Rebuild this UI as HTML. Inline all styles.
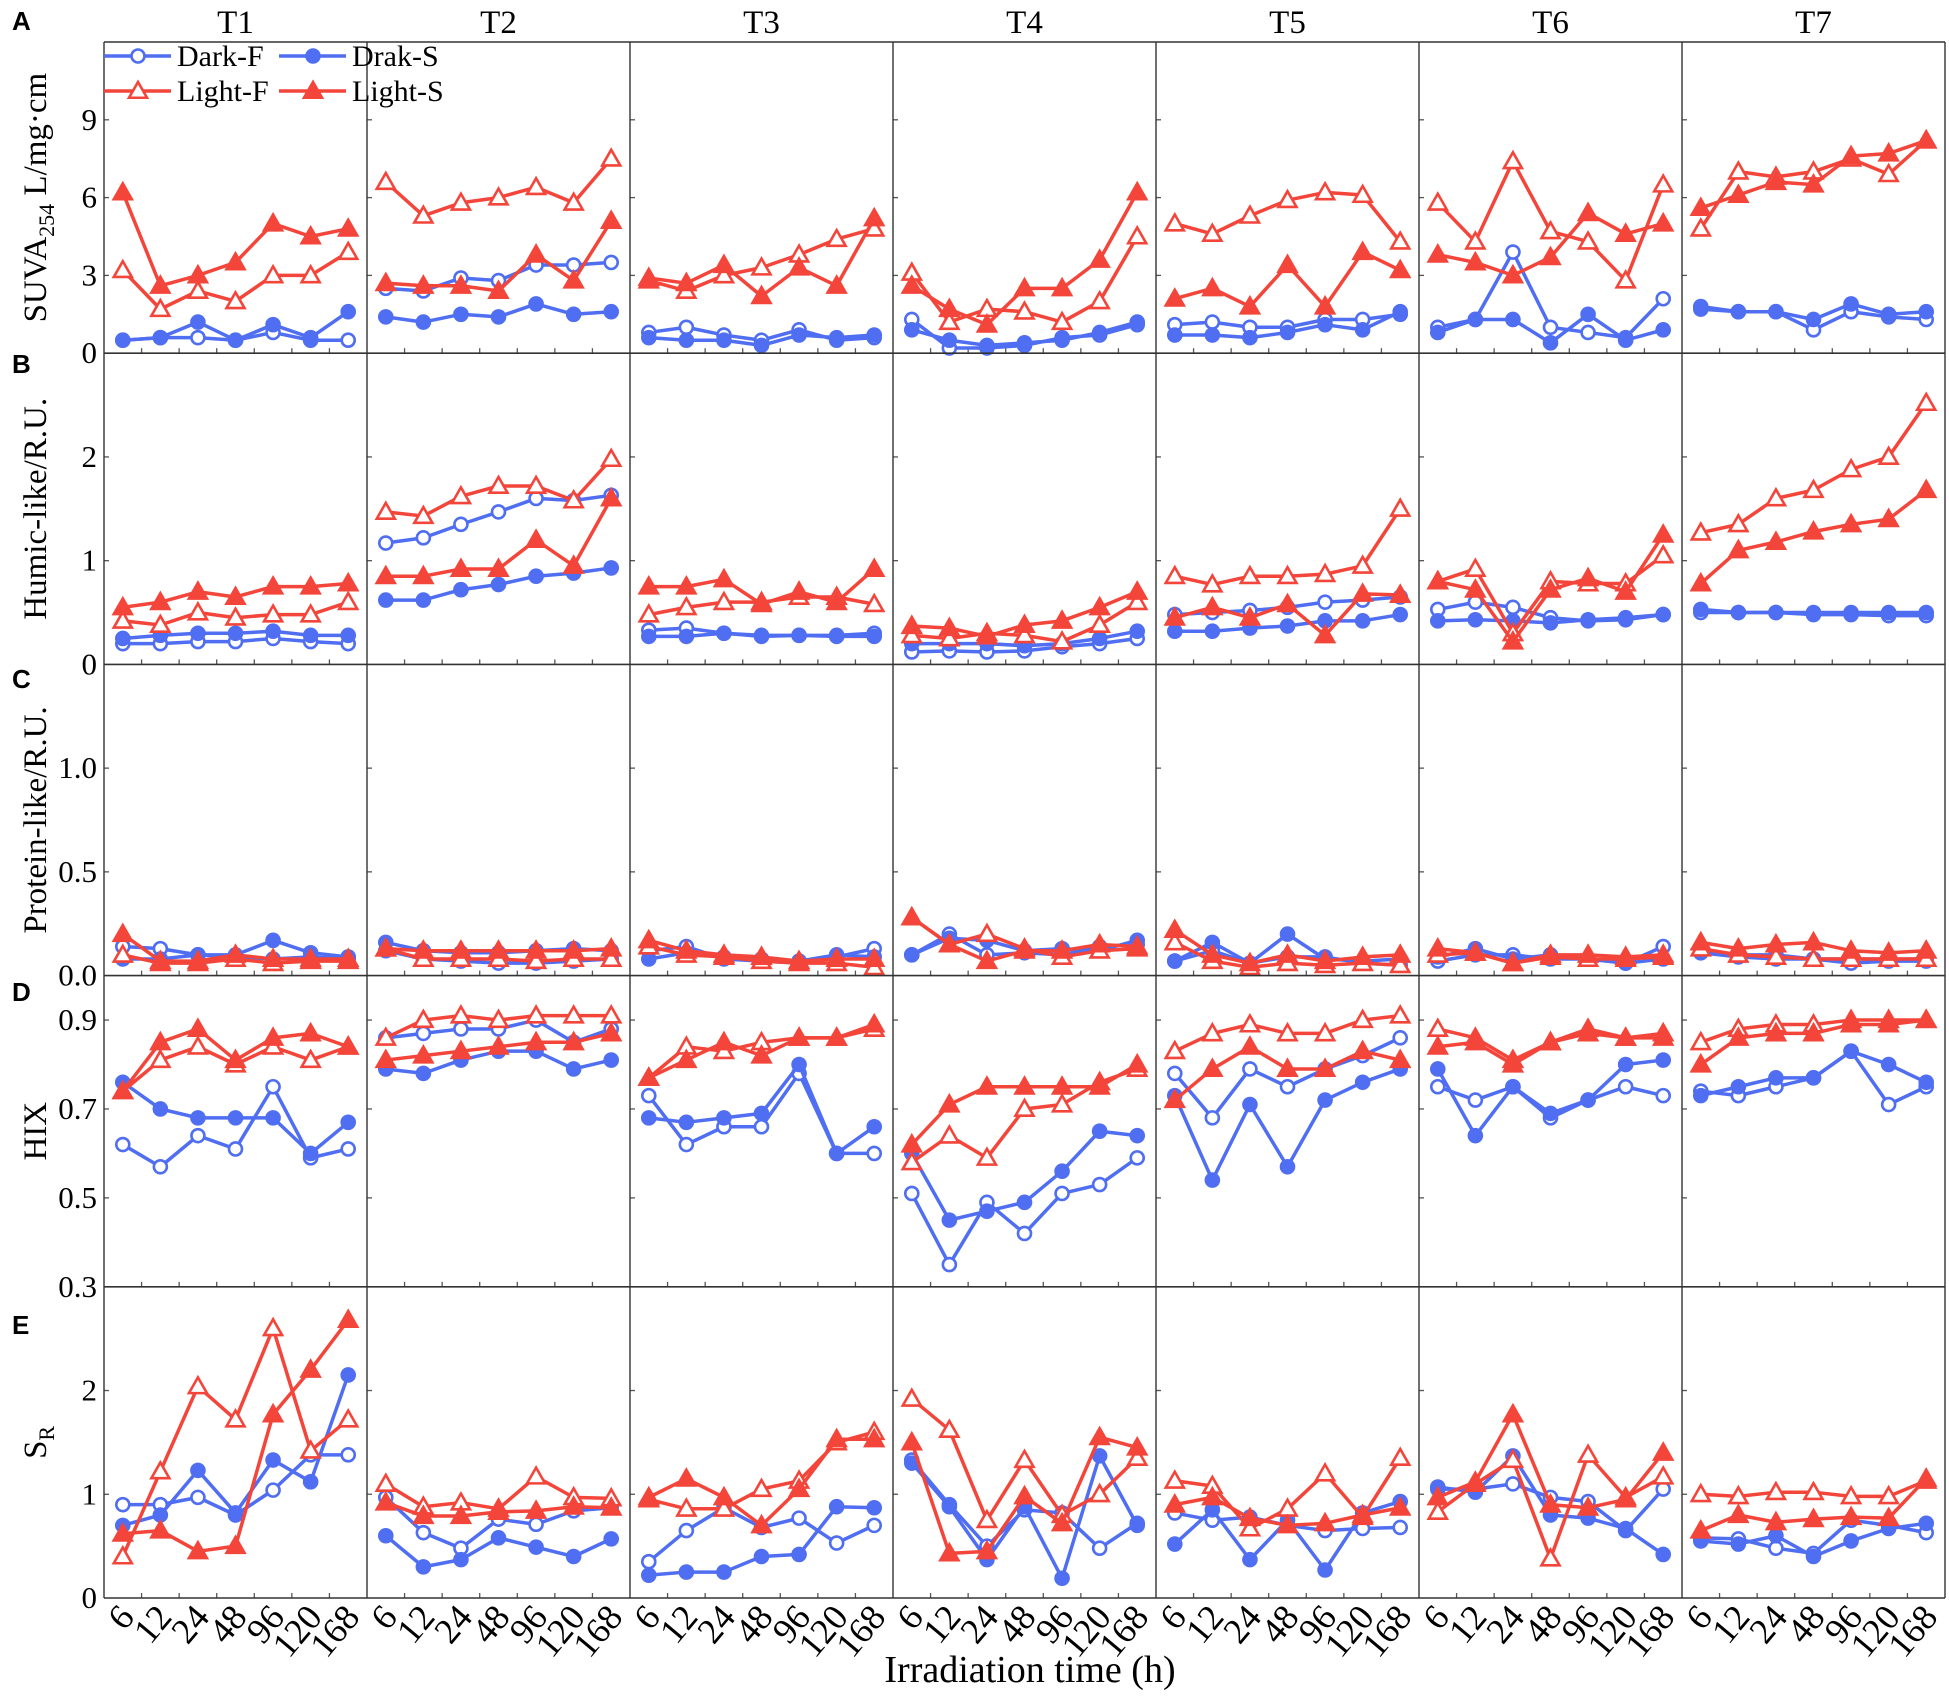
<!DOCTYPE html>
<html><head><meta charset="utf-8"><style>
html,body{margin:0;padding:0;background:#fff;}
svg{display:block;}
text{font-family:"Liberation Serif",serif;fill:#000;}
.lb{font-family:"Liberation Sans",sans-serif;font-weight:bold;}
</style></head><body>
<svg id="s" width="1949" height="1698" xmlns="http://www.w3.org/2000/svg"></svg>
<script>
const L=104,PW=263,TOP=42,RH=311.2,N=7,CW=PW/7;
const BLUE="#4f6ef2",RED="#f4453a";
const rows=[
 {min:0,max:12,ticks:[0,3,6,9],fmt:v=>String(v)},
 {min:0,max:3,ticks:[0,1,2],fmt:v=>String(v)},
 {min:0,max:1.5,ticks:[0,0.5,1.0],fmt:v=>v.toFixed(1)},
 {min:0.3,max:1.0,ticks:[0.3,0.5,0.7,0.9],fmt:v=>v.toFixed(1)},
 {min:0,max:3,ticks:[0,1,2],fmt:v=>String(v)}
];
const D=[
[
[[.5,.6,.6,.5,.8,.5,.5],[.5,.6,1.2,.5,1.1,.6,1.6],[3.2,1.7,2.4,2.0,3.0,3.0,3.9],[6.2,2.6,3.0,3.5,5.0,4.5,4.8]],
[[2.5,2.4,2.9,2.8,3.4,3.4,3.5],[1.4,1.2,1.5,1.4,1.9,1.5,1.6],[6.6,5.3,5.8,6.0,6.4,5.8,7.5],[2.7,2.6,2.6,2.4,3.8,2.8,5.1]],
[[.8,1.0,.7,.5,.9,.5,.6],[.6,.5,.5,.3,.7,.6,.7],[2.8,2.4,3.0,3.3,3.8,4.4,4.8],[2.9,2.7,3.4,2.2,3.3,2.6,5.2]],
[[1.3,.2,.2,.3,.6,.7,1.1],[.9,.5,.3,.4,.5,.8,1.2],[3.1,1.2,1.7,1.6,1.2,2.0,4.5],[2.6,1.7,1.1,2.5,2.5,3.6,6.2]],
[[1.1,1.2,1.0,1.0,1.3,1.3,1.5],[.7,.7,.6,.8,1.1,.9,1.6],[5.0,4.6,5.3,5.9,6.2,6.1,4.3],[2.1,2.5,1.8,3.4,1.8,3.9,3.2]],
[[1.0,1.3,3.9,1.0,.8,.6,2.1],[.8,1.3,1.3,.4,1.5,.5,.9],[5.8,4.3,7.4,4.7,4.3,2.8,6.5],[3.8,3.5,3.0,3.7,5.4,4.6,5.0]],
[[1.8,1.6,1.6,.9,1.6,1.4,1.3],[1.7,1.6,1.6,1.3,1.9,1.5,1.6],[4.8,7.0,6.8,7.0,7.5,6.9,8.2],[5.6,6.1,6.6,6.5,7.6,7.7,8.2]]
],[
[[.2,.2,.22,.22,.25,.22,.2],[.25,.28,.3,.3,.32,.28,.28],[.42,.38,.5,.45,.48,.48,.6],[.55,.6,.7,.65,.75,.75,.78]],
[[1.17,1.22,1.35,1.47,1.6,1.58,1.63],[.62,.62,.72,.77,.85,.88,.93],[1.47,1.43,1.62,1.72,1.72,1.58,1.98],[.85,.85,.92,.92,1.2,.95,1.6]],
[[.33,.35,.3,.28,.28,.28,.3],[.27,.27,.3,.27,.28,.27,.27],[.48,.55,.6,.6,.65,.65,.58],[.75,.75,.82,.58,.7,.6,.92]],
[[.12,.13,.12,.13,.17,.2,.25],[.2,.2,.2,.18,.2,.25,.32],[.28,.25,.3,.28,.22,.38,.6],[.37,.35,.27,.38,.42,.55,.7]],
[[.48,.5,.52,.55,.6,.62,.65],[.32,.32,.35,.37,.42,.42,.48],[.85,.77,.85,.85,.87,.95,1.5],[.45,.55,.45,.58,.28,.68,.67]],
[[.53,.6,.55,.45,.42,.43,.48],[.42,.43,.42,.4,.43,.45,.48],[.8,.92,.3,.8,.78,.78,1.05],[.8,.72,.22,.72,.83,.7,1.25]],
[[.5,.5,.5,.48,.48,.47,.47],[.53,.5,.5,.5,.5,.5,.5],[1.27,1.35,1.6,1.68,1.88,2.0,2.52],[.78,1.1,1.18,1.28,1.35,1.4,1.68]]
],[
[[.14,.13,.1,.09,.08,.09,.08],[.08,.08,.1,.1,.17,.11,.09],[.1,.06,.06,.08,.06,.07,.07],[.2,.07,.07,.1,.08,.08,.08]],
[[.12,.08,.07,.06,.06,.07,.08],[.16,.12,.11,.11,.12,.13,.12],[.13,.08,.08,.08,.07,.08,.08],[.13,.12,.12,.12,.12,.12,.13]],
[[.12,.14,.08,.07,.06,.09,.13],[.08,.11,.09,.08,.07,.1,.09],[.14,.1,.09,.07,.06,.06,.04],[.17,.12,.1,.09,.07,.08,.08]],
[[.1,.2,.1,.11,.1,.14,.15],[.1,.18,.17,.12,.13,.12,.17],[.28,.15,.2,.13,.09,.12,.13],[.28,.15,.07,.12,.12,.15,.14]],
[[.07,.12,.06,.09,.09,.06,.05],[.07,.16,.06,.2,.08,.07,.08],[.16,.07,.04,.06,.05,.06,.05],[.22,.1,.06,.1,.07,.09,.1]],
[[.07,.1,.1,.08,.08,.06,.14],[.09,.13,.08,.1,.08,.06,.08],[.1,.11,.06,.09,.08,.08,.09],[.13,.11,.06,.1,.1,.09,.1]],
[[.11,.09,.08,.08,.06,.07,.07],[.11,.1,.1,.08,.08,.08,.08],[.13,.1,.09,.08,.08,.08,.08],[.16,.13,.15,.16,.12,.11,.12]]
],[
[[.62,.57,.64,.61,.75,.59,.61],[.76,.70,.68,.68,.68,.60,.67],[.74,.81,.84,.80,.84,.81,.84],[.74,.85,.88,.81,.86,.87,.84]],
[[.86,.87,.88,.88,.90,.85,.88],[.79,.78,.81,.83,.83,.79,.81],[.86,.90,.91,.90,.91,.91,.91],[.81,.82,.83,.84,.85,.85,.87]],
[[.73,.62,.66,.66,.78,.60,.60],[.68,.67,.68,.69,.80,.60,.66],[.77,.84,.83,.85,.86,.86,.88],[.77,.81,.85,.82,.86,.86,.89]],
[[.51,.35,.49,.42,.51,.53,.59],[.60,.45,.47,.49,.56,.65,.64],[.58,.64,.59,.70,.71,.76,.79],[.62,.71,.75,.75,.75,.75,.80]],
[[.78,.68,.79,.75,.79,.82,.86],[.73,.54,.71,.57,.72,.76,.79],[.83,.87,.89,.87,.87,.90,.91],[.72,.79,.84,.79,.79,.83,.81]],
[[.75,.72,.75,.68,.72,.75,.73],[.79,.64,.75,.69,.72,.80,.81],[.88,.86,.81,.85,.88,.86,.87],[.84,.85,.80,.85,.87,.86,.86]],
[[.74,.73,.75,.77,.83,.71,.75],[.73,.75,.77,.77,.83,.80,.76],[.85,.88,.89,.89,.90,.90,.90],[.80,.86,.87,.87,.89,.89,.90]]
],[
[[.9,.9,.97,.8,1.04,1.38,1.38],[.7,.8,1.23,.82,1.33,1.12,2.15],[.4,1.22,2.04,1.72,2.6,1.42,1.72],[.62,.65,.45,.5,1.77,2.2,2.68]],
[[.97,.63,.48,.76,.71,.84,.87],[.6,.3,.37,.58,.49,.4,.57],[1.1,.88,.92,.86,1.17,.97,.96],[.92,.79,.79,.83,.84,.88,.87]],
[[.35,.65,.87,.68,.77,.53,.7],[.22,.25,.25,.4,.42,.88,.87],[.95,.86,.86,1.05,1.13,1.5,1.6],[.97,1.15,.97,.7,1.05,1.53,1.53]],
[[1.33,.9,.5,.85,.82,.48,.72],[1.3,.88,.37,.88,.19,1.37,.7],[1.92,1.62,.75,1.33,.8,1.0,1.35],[1.5,.43,.45,.98,.72,1.55,1.45]],
[[.82,.75,.78,.7,.65,.67,.68],[.52,.85,.37,.75,.27,.82,.93],[1.13,1.08,.67,.86,1.2,.78,1.35],[.9,.97,.77,.7,.72,.8,.87]],
[[1.05,1.05,1.1,.97,.93,.65,1.05],[1.07,1.02,1.37,.8,.77,.67,.42],[.83,1.1,1.33,.38,1.38,.97,1.17],[.97,1.12,1.77,.9,.87,.95,1.4]],
[[.58,.57,.48,.43,.75,.7,.63],[.55,.52,.6,.4,.55,.67,.72],[1.0,.98,1.02,1.02,.98,.98,1.13],[.65,.8,.73,.76,.78,.77,1.15]]
]];
let h="";
function marker(x,y,k){
 const c=k<2?BLUE:RED, fill=(k%2==1)?c:"#fff";
 if(k<2) return `<circle cx="${x}" cy="${y}" r="6.5" fill="${fill}" stroke="${c}" stroke-width="2.6"/>`;
 const s=9;return `<polygon points="${x},${y-s} ${x-s},${y+s*0.75} ${x+s},${y+s*0.75}" fill="${fill}" stroke="${c}" stroke-width="2.6"/>`;
}
for(let r=0;r<5;r++){
 const R=rows[r],top=TOP+r*RH,bot=top+RH;
 const Y=v=>bot-(v-R.min)/(R.max-R.min)*RH;
 for(let p=0;p<7;p++){
  const pl=L+p*PW;
  for(const t of R.ticks){ if(t===R.min)continue; h+=`<line x1="${pl}" x2="${pl+5}" y1="${Y(t)}" y2="${Y(t)}" stroke="#555" stroke-width="1.3"/>`;}
  for(let i=1;i<7;i++){const x=pl+i*CW;h+=`<line x1="${x}" x2="${x}" y1="${bot}" y2="${bot-5}" stroke="#555" stroke-width="1.3"/>`;}
  for(let k=0;k<4;k++){
   const d=D[r][p][k],c=k<2?BLUE:RED;
   const pts=d.map((v,i)=>`${pl+(i+0.5)*CW},${Y(v)}`).join(" ");
   h+=`<polyline points="${pts}" fill="none" stroke="${c}" stroke-width="3.5" stroke-linejoin="round"/>`;
   d.forEach((v,i)=>h+=marker(pl+(i+0.5)*CW,Y(v),k));
  }
 }
 for(const t of R.ticks){ h+=`<text x="97" y="${Y(t)+10}" font-size="31" text-anchor="end">${R.fmt(t)}</text>`;}
 h+=`<line x1="${L}" x2="1945" y1="${bot}" y2="${bot}" stroke="#333" stroke-width="1.6"/>`;
}
h+=`<line x1="${L}" x2="1945" y1="${TOP}" y2="${TOP}" stroke="#333" stroke-width="1.6"/>`;
for(let p=0;p<=7;p++){const x=p==7?1945:L+p*PW;h+=`<line x1="${x}" x2="${x}" y1="${TOP}" y2="${TOP+5*RH}" stroke="#333" stroke-width="1.4"/>`;}
for(let p=0;p<7;p++) h+=`<text x="${L+p*PW+PW/2}" y="33" font-size="33" text-anchor="middle">T${p+1}</text>`;
const xl=["6","12","24","48","96","120","168"];
for(let p=0;p<7;p++)for(let i=0;i<7;i++){
 const x=L+p*PW+(i+0.5)*CW+13,y=1618;
 h+=`<text transform="translate(${x},${y}) rotate(-50)" font-size="36" text-anchor="end">${xl[i]}</text>`;
}
h+=`<text x="1030" y="1682" font-size="38" text-anchor="middle">Irradiation time (h)</text>`;
[["A",30],["B",373],["C",688],["D",1001],["E",1334]].forEach(([t,y])=>h+=`<text class="lb" x="12" y="${y}" font-size="26">${t}</text>`);
const yl=[`SUVA<tspan font-size="22" dy="8">254</tspan><tspan dy="-8"> L/mg·cm</tspan>`,"Humic-like/R.U.","Protein-like/R.U.","HIX",`S<tspan font-size="22" dy="8">R</tspan>`];
yl.forEach((t,r)=>{const cy=TOP+r*RH+RH/2;h+=`<text transform="translate(46,${cy}) rotate(-90)" font-size="33" text-anchor="middle">${t}</text>`;});
const leg=[["Dark-F",0,104,56],["Drak-S",1,279,56],["Light-F",2,104,91],["Light-S",3,279,91]];
for(const [t,k,x,y] of leg){const c=k<2?BLUE:RED;
 h+=`<line x1="${x}" x2="${x+67}" y1="${y}" y2="${y}" stroke="${c}" stroke-width="3.5"/>`+marker(x+34,y,k)+`<text x="${x+73}" y="${y+10}" font-size="30">${t}</text>`;}
document.getElementById("s").innerHTML=h;
</script>
</body></html>
